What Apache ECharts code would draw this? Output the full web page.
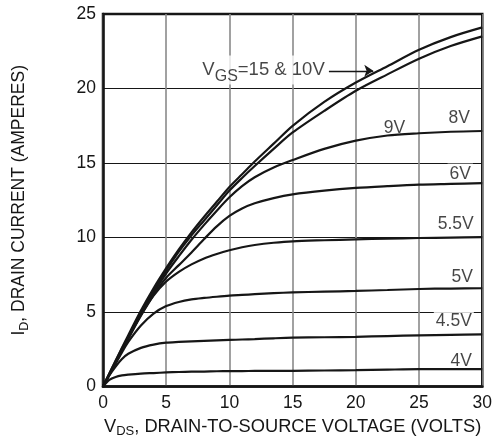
<!DOCTYPE html>
<html><head><meta charset="utf-8">
<script src="https://cdn.jsdelivr.net/npm/echarts@6/dist/echarts.min.js"></script>
<style>html,body{margin:0;padding:0;background:#fff}#c{width:495px;height:443px}</style>
</head><body><div id="c"></div>
<script>
// Drain-to-source voltage sample points (V)
const vds = [0,0.5,1,1.5,2,3,4,5,6,7,8,9,10,11,12,13.5,15,17.5,20,22.5,25,27.5,30];
// Drain current (A) per gate voltage curve
const id15V  = [0,0.88,1.75,2.6,3.45,5.1,6.6,7.95,9.2,10.35,11.4,12.4,13.4,14.25,15.1,16.3,17.5,19.1,20.4,21.5,22.6,23.45,24.1];
const id10V  = [0,0.85,1.7,2.55,3.35,4.95,6.45,7.8,9.05,10.15,11.15,12.15,13.15,14.0,14.8,15.95,17.05,18.5,19.85,20.95,22.0,22.85,23.5];
const id8V   = [0,0.83,1.65,2.5,3.3,4.85,6.3,7.6,8.75,9.85,10.85,11.8,12.7,13.45,14.05,14.7,15.2,15.95,16.5,16.85,17.0,17.1,17.15];
const id6V   = [0,0.83,1.65,2.45,3.25,4.8,6.15,7.3,8.15,9.0,9.9,10.75,11.45,11.95,12.3,12.65,12.9,13.15,13.33,13.45,13.55,13.6,13.65];
const id5_5V = [0,0.8,1.6,2.4,3.2,4.75,6.1,7.05,7.7,8.2,8.6,8.9,9.15,9.35,9.5,9.65,9.75,9.82,9.88,9.93,9.97,10.0,10.03];
const id5V   = [0,0.78,1.55,2.3,3.0,4.1,4.9,5.4,5.68,5.85,5.95,6.03,6.1,6.15,6.2,6.27,6.32,6.37,6.42,6.48,6.55,6.58,6.6];
const id4_5V = [0,0.75,1.35,1.85,2.2,2.6,2.82,2.95,3.0,3.04,3.07,3.1,3.13,3.16,3.19,3.24,3.28,3.31,3.34,3.39,3.44,3.47,3.5];
const id4V   = [0,0.45,0.65,0.75,0.8,0.87,0.91,0.95,0.98,1.0,1.01,1.03,1.04,1.045,1.05,1.055,1.06,1.08,1.1,1.14,1.17,1.17,1.17];
const curves = [id15V,id10V,id8V,id6V,id5_5V,id5V,id4_5V,id4V];
const curveNames = ['15V','10V','8V','6V','5.5V','5V','4.5V','4V'];
// Axis ticks
const xTicks = [0,5,10,15,20,25,30];
const yTicks = [0,5,10,15,20,25];
// Curve labels, anchored in data space [Vds, Id]
const labelText = ['9V','8V','6V','5.5V','5V','4.5V','4V'];
const labelVds  = [23.06,28.18,28.26,27.9,28.41,27.75,28.34];
const labelId   = [17.33,17.98,14.26,10.9,7.31,4.37,1.70];
// VGS annotation
const annoStart = [7.7, 21.24];
const arrowFrom = [17.87, 21.19];
const arrowTo   = [21.38, 21.19];

const FONT = '"Liberation Sans", Arial, sans-serif';
const INK = '#161616';
const chart = echarts.init(document.getElementById('c'), null, {renderer:'canvas'});

const series = curves.map((arr, k) => ({
  name: curveNames[k], type:'line', z:3,
  data: vds.map((v,i)=>[v, arr[i]]),
  smooth: 0.3, showSymbol:false, symbol:'none',
  lineStyle:{color:INK, width:2.2}, silent:true
}));

series.push({
  type:'scatter', z:1, symbolSize:0, silent:true,
  data: labelText.map((t,i)=>({value:[labelVds[i], labelId[i]], label:{formatter:t}})),
  label:{show:true, position:'inside', fontFamily:FONT, fontSize:17.5, color:INK,
         backgroundColor:'#fff', padding:[2,2,1,2]}
});

series.push({
  type:'scatter', z:1, symbolSize:0, silent:true,
  data: [{value:annoStart}],
  label:{show:true, position:'right', distance:0, fontFamily:FONT, color:INK,
    formatter:'{v|V}{s|GS}{v|=15 & 10V}', backgroundColor:'#fff', padding:[0,2,0,2],
    rich:{ v:{fontFamily:FONT, fontSize:18.5, color:INK},
           s:{fontFamily:FONT, fontSize:16, color:INK, padding:[13,0,0,0]} }},
  markLine:{silent:true, symbol:['none','arrow'], symbolSize:9, z:1,
    lineStyle:{color:INK, width:1.3, type:'solid'}, label:{show:false},
    data:[[{coord:arrowFrom},{coord:arrowTo}]]}
});

chart.setOption({
  animation:false,
  backgroundColor:'#fff',
  grid:{left:103, right:8, top:14, bottom:46, show:true, borderColor:INK, borderWidth:2.5, backgroundColor:'transparent'},
  xAxis:{type:'value', min:0, max:30, interval:5,
    axisLine:{show:true, lineStyle:{color:INK, width:2.5}}, axisTick:{show:false},
    axisLabel:{fontFamily:FONT, fontSize:17.5, color:INK, margin:8, formatter:v=>xTicks.includes(v)?String(v):''},
    splitLine:{show:true, lineStyle:{color:'#8a8a8a', width:1.6}},
    name:'{v|V}{s|DS}{v|, DRAIN-TO-SOURCE VOLTAGE (VOLTS)}', nameLocation:'middle', nameGap:27,
    nameTextStyle:{fontFamily:FONT, color:INK, rich:{
      v:{fontFamily:FONT, fontSize:18.3, color:INK},
      s:{fontFamily:FONT, fontSize:13, color:INK, padding:[10,0,0,0]}}}
  },
  yAxis:{type:'value', min:0, max:25, interval:5,
    axisLine:{show:true, lineStyle:{color:INK, width:2.5}}, axisTick:{show:false},
    axisLabel:{fontFamily:FONT, fontSize:17.5, color:INK, margin:7, formatter:v=>yTicks.includes(v)?String(v):''},
    splitLine:{show:true, lineStyle:{color:INK, width:1.2}},
    name:'{v|I}{s|D}{v|, DRAIN CURRENT (AMPERES)}', nameLocation:'middle', nameGap:72, nameRotate:90,
    nameTextStyle:{fontFamily:FONT, color:INK, rich:{
      v:{fontFamily:FONT, fontSize:17.5, color:INK},
      s:{fontFamily:FONT, fontSize:12.5, color:INK, padding:[10,0,0,0]}}}
  },
  series
});
</script></body></html>
